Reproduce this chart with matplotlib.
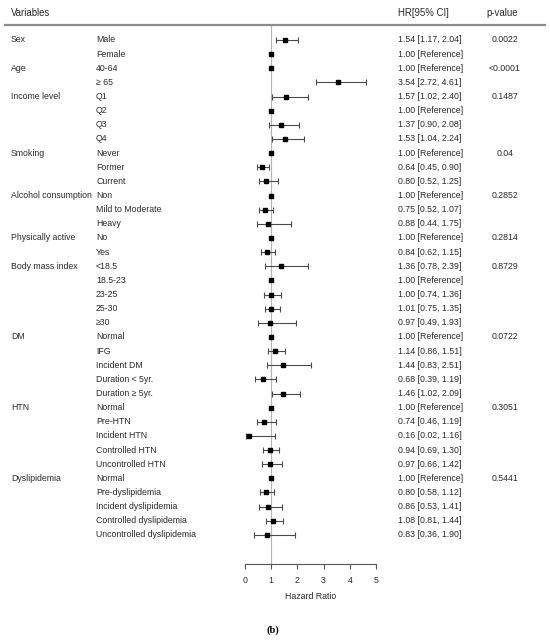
import numpy as np
import matplotlib
matplotlib.use("Agg")
import matplotlib.pyplot as plt
from matplotlib.transforms import blended_transform_factory
from matplotlib.lines import Line2D

plt.rcParams['font.family'] = ['Liberation Sans', 'DejaVu Sans']

# groups, their subgroup labels and p-values
groups = ["Sex", "Age", "Income level", "Smoking", "Alcohol consumption",
          "Physically active", "Body mass index", "DM", "HTN", "Dyslipidemia"]
subgroups = [
    ["Male", "Female"],
    ["40-64", "\u2265 65"],
    ["Q1", "Q2", "Q3", "Q4"],
    ["Never", "Former", "Current"],
    ["Non", "Mild to Moderate", "Heavy"],
    ["No", "Yes"],
    ["<18.5", "18.5-23", "23-25", "25-30", "\u226530"],
    ["Normal", "IFG", "Incident DM", "Duration < 5yr.", "Duration \u2265 5yr."],
    ["Normal", "Pre-HTN", "Incident HTN", "Controlled HTN", "Uncontrolled HTN"],
    ["Normal", "Pre-dyslipidemia", "Incident dyslipidemia",
     "Controlled dyslipidemia", "Uncontrolled dyslipidemia"],
]
pvalues = ["0.0022", "<0.0001", "0.1487", "0.04", "0.2852",
           "0.2814", "0.8729", "0.0722", "0.3051", "0.5441"]

# hazard ratios and CI (nan = reference)
hr = [1.54, np.nan, np.nan, 3.54, 1.57, np.nan, 1.37, 1.53,
      np.nan, 0.64, 0.80, np.nan, 0.75, 0.88, np.nan, 0.84,
      1.36, np.nan, 1.00, 1.01, 0.97,
      np.nan, 1.14, 1.44, 0.68, 1.46,
      np.nan, 0.74, 0.16, 0.94, 0.97,
      np.nan, 0.80, 0.86, 1.08, 0.83]
lo = [1.17, np.nan, np.nan, 2.72, 1.02, np.nan, 0.90, 1.04,
      np.nan, 0.45, 0.52, np.nan, 0.52, 0.44, np.nan, 0.62,
      0.78, np.nan, 0.74, 0.75, 0.49,
      np.nan, 0.86, 0.83, 0.39, 1.02,
      np.nan, 0.46, 0.02, 0.69, 0.66,
      np.nan, 0.58, 0.53, 0.81, 0.36]
hi = [2.04, np.nan, np.nan, 4.61, 2.40, np.nan, 2.08, 2.24,
      np.nan, 0.90, 1.25, np.nan, 1.07, 1.75, np.nan, 1.15,
      2.39, np.nan, 1.36, 1.35, 1.93,
      np.nan, 1.51, 2.51, 1.19, 2.09,
      np.nan, 1.19, 1.16, 1.30, 1.42,
      np.nan, 1.12, 1.41, 1.44, 1.90]

hr = np.array(hr)
lo = np.array(lo)
hi = np.array(hi)
n = len(hr)
rows = np.arange(n)
ref = np.isnan(hr)

W, H = 550, 640
fig = plt.figure(figsize=(5.5, 6.4), dpi=100)

row0, rstep = 40, 14.14
top_px, bot_px = 26, 564
ax = fig.add_axes([245 / W, 1 - bot_px / H, 131 / W, (bot_px - top_px) / H])
ax.set_xlim(0, 5)
ax.set_ylim((bot_px - row0) / rstep, (top_px - row0) / rstep)

txtc = '#2a2a2a'
fs = 6.3

ax.axvline(1, color='#b4b4b4', lw=0.8, zorder=0)

m = ~ref
ax.errorbar(hr[m], rows[m], xerr=[hr[m] - lo[m], hi[m] - hr[m]], fmt='none',
            ecolor='#4a4a4a', elinewidth=0.8, capsize=1.9, capthick=0.8,
            clip_on=False)
ax.plot(hr[m], rows[m], 's', color='black', ms=3.1, clip_on=False)
ax.plot(np.ones(ref.sum()), rows[ref], 's', color='black', ms=2.6, clip_on=False)

for s in ['top', 'left', 'right']:
    ax.spines[s].set_visible(False)
ax.spines['bottom'].set_color('#555555')
ax.spines['bottom'].set_linewidth(0.8)
ax.set_yticks([])
ax.set_xticks(np.arange(0, 6))
ax.tick_params(axis='x', length=3.5, width=0.8, color='#555555',
               labelsize=fs, labelcolor=txtc, pad=5)
ax.set_xlabel("Hazard Ratio", fontsize=fs, color=txtc, labelpad=5)

tr = blended_transform_factory(fig.transFigure, ax.transData)

i = 0
for g, subs, p in zip(groups, subgroups, pvalues):
    ax.text(11 / W, i, g, transform=tr, fontsize=fs, color=txtc,
            va='center', ha='left')
    ax.text(505 / W, i, p, transform=tr, fontsize=fs, color=txtc,
            va='center', ha='center')
    for s in subs:
        ax.text(96 / W, i, s, transform=tr, fontsize=fs, color=txtc,
                va='center', ha='left')
        if ref[i]:
            lab = "1.00 [Reference]"
        else:
            lab = f"{hr[i]:.2f} [{lo[i]:.2f}, {hi[i]:.2f}]"
        ax.text(398 / W, i, lab, transform=tr, fontsize=fs, color=txtc,
                va='center', ha='left')
        i += 1

# header
fig.text(11 / W, 1 - 13 / H, "Variables", fontsize=6.9, color=txtc, va='center')
fig.text(398 / W, 1 - 13 / H, "HR[95% CI]", fontsize=6.9, color=txtc, va='center')
fig.text(502 / W, 1 - 13 / H, "p-value", fontsize=6.9, color=txtc, va='center',
         ha='center')
fig.add_artist(Line2D([5 / W, 545 / W], [1 - 25 / H, 1 - 25 / H],
                      color='#8c8c8c', lw=1.6, transform=fig.transFigure))

fig.text(273 / W, 1 - 630 / H, "(b)", fontsize=7.5, fontweight='bold',
         family=['Liberation Serif', 'DejaVu Serif'], va='center', ha='center')

fig.savefig("out.png", dpi=100, facecolor='white')
